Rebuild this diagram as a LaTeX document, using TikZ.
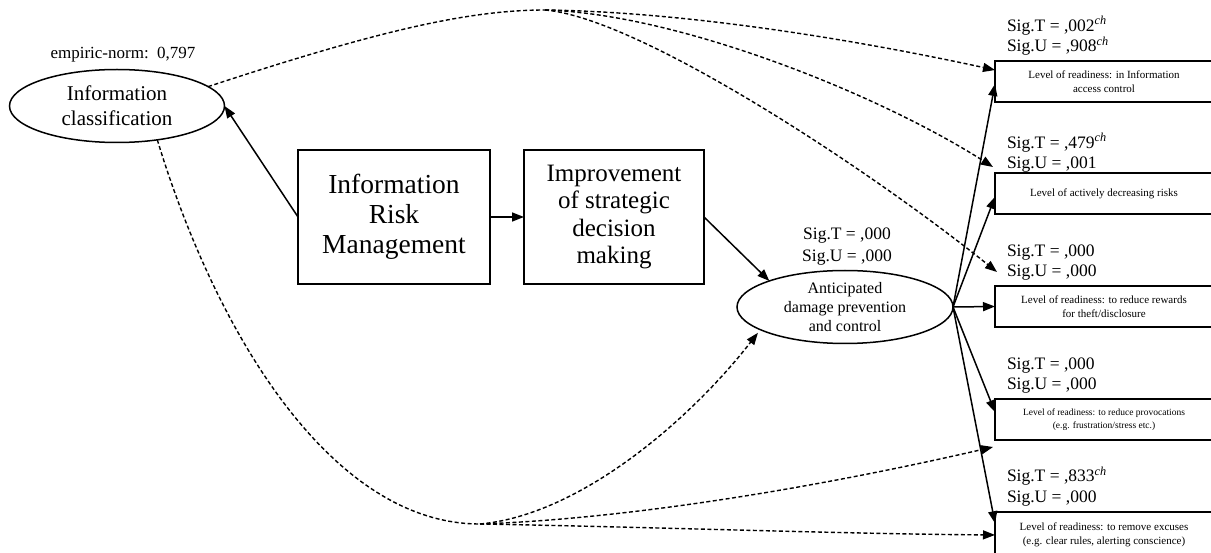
\documentclass[tikz,border=0pt]{standalone}
\usepackage{fontspec}
\setmainfont{Liberation Serif}
\usetikzlibrary{arrows.meta,shapes.geometric,calc}

\begin{document}
\begin{tikzpicture}[x=1pt,y=-1pt,
  every node/.style={inner sep=0pt, outer sep=0pt},
  tip/.style={-{Triangle[length=12pt,width=9pt]}},
  link/.style={line width=1.5pt, tip},
  dline/.style={line width=1.4pt, dash pattern=on 4pt off 2.5pt},
  dlink/.style={dline, tip},
  oval/.style={draw, ellipse, line width=1.5pt, align=center},
  bigbox/.style={draw, rectangle, line width=1.5pt, align=center},
  rbox/.style={draw, rectangle, line width=1.5pt, align=center,
    minimum width=218pt, minimum height=41pt, anchor=north west,
    font=\fontsize{11}{14}\selectfont},
  siglab/.style={anchor=west, align=left, font=\fontsize{17.5}{20.5}\selectfont},
]
\useasboundingbox (0,0) rectangle (1211,553);
\clip (0,0) rectangle (1211,553);

% latent constructs and the management chain
\node[font=\fontsize{17}{20}\selectfont] (norm) at (123,55) {empiric-norm:\ \ 0,797};
\node[oval, minimum width=215pt, minimum height=73pt,
      font=\fontsize{21}{25}\selectfont] (ic) at (117,106) {Information\\classification};
\node[bigbox, minimum width=192pt, minimum height=134pt,
      font=\fontsize{27.5}{30}\selectfont] (irm) at (394,217) {Information\\Risk\\Management};
\node[bigbox, minimum width=180pt, minimum height=134pt,
      font=\fontsize{25}{27.5}\selectfont] (imp) at (614,217) {Improvement\\of strategic\\decision\\making};
\node[oval, minimum width=216pt, minimum height=73pt,
      font=\fontsize{16}{19}\selectfont] (ant) at (845,307) {Anticipated\\damage prevention\\and control};
\node[align=center, font=\fontsize{17.5}{22}\selectfont] (antsig) at (847,247) {Sig.T = ,000\\Sig.U = ,000};

% readiness outcomes
\node[rbox] (b1) at (995,61) {Level of readiness: in Information\\access control};
\node[rbox] (b2) at (995,173) {Level of actively decreasing risks};
\node[rbox] (b3) at (995,286) {Level of readiness: to reduce rewards\\for theft/disclosure};
\node[rbox, font=\fontsize{9.5}{13}\selectfont] (b4) at (995,399) {Level of readiness: to reduce provocations\\(e.g. frustration/stress etc.)};
\node[rbox, minimum height=45pt] (b5) at (995,512) {Level of readiness: to remove excuses\\(e.g. clear rules, alerting conscience)};

\node[siglab] (s1) at (1007,36) {Sig.T = ,002\textsuperscript{\itshape ch}\\Sig.U = ,908\textsuperscript{\itshape ch}};
\node[siglab] (s2) at (1007,153) {Sig.T = ,479\textsuperscript{\itshape ch}\\Sig.U = ,001};
\node[siglab] (s3) at (1007,262.5) {Sig.T = ,000\\Sig.U = ,000};
\node[siglab] (s4) at (1007,375.5) {Sig.T = ,000\\Sig.U = ,000};
\node[siglab] (s5) at (1007,486.5) {Sig.T = ,833\textsuperscript{\itshape ch}\\Sig.U = ,000};

% solid paths
\draw[link] (irm.west) -- (ic.east);
\draw[link] (irm.east) -- (imp.west);
\draw[link] (imp.east) -- (ant.161);
\draw[link] (ant.east) -- ($(b1.north west)!0.56!(b1.south west)$);
\draw[link] (ant.east) -- ($(b2.north west)!0.58!(b2.south west)$);
\draw[link] (ant.east) -- (b3.west);
\draw[link] (ant.east) -- ($(b4.north west)!0.32!(b4.south west)$);
\draw[link] (ant.east) -- ($(b5.north west)!0.25!(b5.south west)$);

% dashed paths from information classification
\coordinate (htop) at (545,10);
\coordinate (hbot) at (480,524);
\draw[dline] (ic.12) .. controls (380,30) and (470,10) .. (htop);
\draw[dlink] (htop) .. controls (700,12) and (880,45) .. ($(b1.north west)!0.22!(b1.south west)$);
\draw[dlink] (htop) .. controls (680,14) and (880,95) .. ($(b2.north west)+(-2,-6)$);
\draw[dlink] (htop) .. controls (640,18) and (870,170) .. ($(b3.north west)+(2,-14)$);

\draw[dline] (ic.-40) .. controls (215,330) and (330,524) .. (hbot);
\draw[dlink, shorten >=4pt] (hbot) .. controls (580,515) and (690,420) .. (ant.195);
\draw[dlink] (hbot) .. controls (650,518) and (850,480) .. ($(b4.south west)+(-2,7)$);
\draw[dlink] (hbot) .. controls (650,527) and (850,534) .. ($(b5.north west)!0.51!(b5.south west)$);
\end{tikzpicture}
\end{document}
